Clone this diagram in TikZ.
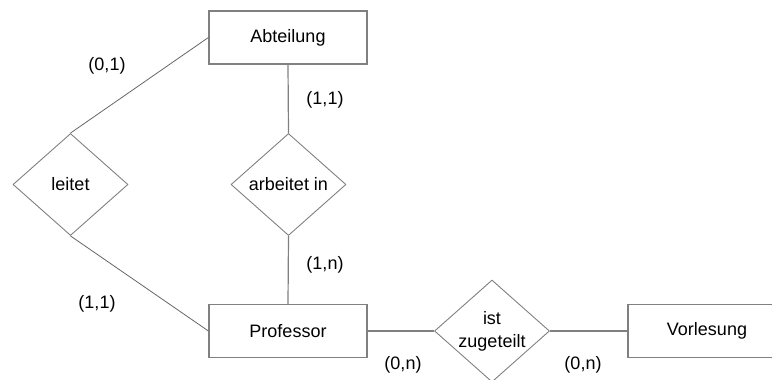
\documentclass[tikz,border=0pt]{standalone}
\usepackage{fontspec}
\setmainfont{Liberation Sans}
\usetikzlibrary{shapes.geometric}
\definecolor{linegray}{HTML}{808080}
\begin{document}
\begin{tikzpicture}[x=1pt,y=-1pt,
  lbl/.style={font=\fontsize{18}{23}\selectfont, text=black},
  entity/.style={lbl, draw=linegray, line width=1.2pt, minimum width=158pt, minimum height=53pt, inner sep=0pt},
  rel/.style={lbl, diamond, draw=linegray, line width=0.9pt, minimum width=115pt, minimum height=102pt, inner sep=-4pt, align=center},
  conn/.style={draw=linegray, line width=1.2pt},
  diag/.style={draw=linegray!80!black, line width=0.8pt},
  card/.style={lbl, inner sep=0pt}
]
\useasboundingbox (0,0) rectangle (772,380);
\clip (0,0) rectangle (772,380);
\node[entity] (abt) at (288,37.5) {Abteilung};
\node[entity] (prof) at (288,331) {Professor};
\node[entity] (vorl) at (707,331) {Vorlesung};
\node[rel] (leitet) at (70.5,184.5) {leitet};
\node[rel] (arb) at (288.5,184.5) {arbeitet in};
\node[rel] (ist) at (492,331) {ist\\zugeteilt};

\draw[diag] (abt.west) -- (leitet.north);
\draw[diag] (leitet.south) -- (prof.west);
\draw[conn] (abt.south) -- (arb.north);
\draw[conn] (arb.south) -- (prof.north);
\draw[conn] (prof.east) -- (ist.west);
\draw[conn] (ist.east) -- (vorl.west);

\node[card] (c1) at (107,66) {(0,1)};
\node[card] (c2) at (325,100) {(1,1)};
\node[card] (c3) at (325,265) {(1,n)};
\node[card] (c4) at (97,304) {(1,1)};
\node[card] (c5) at (403,365) {(0,n)};
\node[card] (c6) at (583,365) {(0,n)};
\end{tikzpicture}
\end{document}
